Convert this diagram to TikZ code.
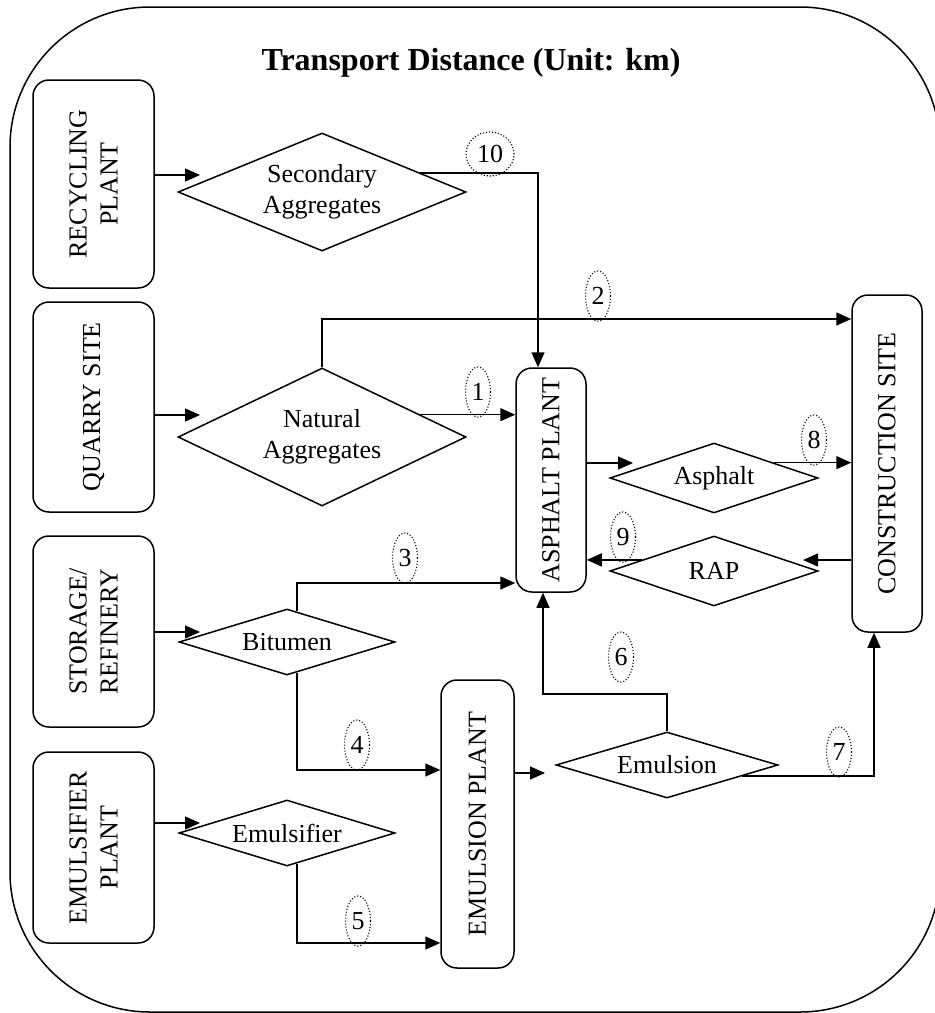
\documentclass[tikz,border=0pt]{standalone}
\usepackage{fontspec}
\setmainfont{Liberation Serif}
\usetikzlibrary{shapes.geometric,arrows.meta,calc}

\begin{document}
\begin{tikzpicture}[x=1pt,y=-1pt,
  every node/.style={font=\fontsize{26}{31}\selectfont},
  site/.style={draw, rounded corners=16pt, line width=1.5pt, inner sep=0pt},
  dia/.style={draw, diamond, line width=1.5pt, inner sep=0pt},
  lbl/.style={align=center, inner sep=0pt},
  vlbl/.style={align=center, inner sep=0pt, rotate=90},
  flow/.style={line width=1.5pt, -{Triangle[length=15pt,width=13pt]}},
  num/.style={ellipse, draw, line width=1.1pt, dash pattern=on 1.1pt off 1.9pt, inner sep=0pt,
              minimum width=25pt, minimum height=50pt},
]
\useasboundingbox (0,0) rectangle (935,1013);
\clip (0,0) rectangle (935,1013);

% frame
\draw[line width=1.5pt, rounded corners=140pt] (10,7) rectangle (940,1012);

% title
\node[font=\fontsize{32}{36}\selectfont\bfseries, anchor=base] (title) at (471,70)
  {Transport Distance (Unit: km)};

% sources on the left
\node[site, minimum width=121pt, minimum height=208pt] (rec) at (93.5,184) {};
\node[vlbl] at (rec) {RECYCLING\\PLANT};
\node[site, minimum width=121pt, minimum height=210pt] (qua) at (93.5,407) {};
\node[vlbl] at (qua) {QUARRY SITE};
\node[site, minimum width=121pt, minimum height=191pt] (sto) at (93.5,631.5) {};
\node[vlbl] at (sto) {STORAGE/\\REFINERY};
\node[site, minimum width=121pt, minimum height=191pt] (emu) at (93.5,847.5) {};
\node[vlbl] at (emu) {EMULSIFIER\\PLANT};

% plants and site
\node[site, minimum width=70pt, minimum height=224pt] (ap) at (551,480) {};
\node[vlbl] at (ap) {ASPHALT PLANT};
\node[site, minimum width=70pt, minimum height=337pt] (con) at (887,463.5) {};
\node[vlbl] at (con) {CONSTRUCTION SITE};
\node[site, minimum width=73pt, minimum height=288pt] (emp) at (477.5,824) {};
\node[vlbl] at (emp) {EMULSION PLANT};

% materials
\node[dia, minimum width=288pt, minimum height=118pt] (sec) at (322,192) {};
\node[lbl] at (sec) {Secondary\\Aggregates};
\node[dia, minimum width=288pt, minimum height=138pt] (nat) at (322,437) {};
\node[lbl] at (nat) {Natural\\Aggregates};
\node[dia, minimum width=208pt, minimum height=70pt] (asp) at (714,478) {};
\node[lbl] at (asp) {Asphalt};
\node[dia, minimum width=208pt, minimum height=70pt] (rap) at (714,571) {};
\node[lbl] at (rap) {RAP};
\node[dia, minimum width=216pt, minimum height=66pt] (bit) at (287,642) {};
\node[lbl] at (bit) {Bitumen};
\node[dia, minimum width=216pt, minimum height=66pt] (emf) at (287,833) {};
\node[lbl] at (emf) {Emulsifier};
\node[dia, minimum width=222pt, minimum height=66pt] (ems) at (667,765) {};
\node[lbl] at (ems) {Emulsion};

% arrow ends near the material shapes
\coordinate (recIn) at (200,175);
\coordinate (quaIn) at (200,415);
\coordinate (stoIn) at (200,632);
\coordinate (emuIn) at (200,823);
\coordinate (aspIn) at (633,463);
\coordinate (rapIn) at (803,560);
\coordinate (emsIn) at (545,773);

% feeds into the materials
\draw[flow] (rec.east |- recIn) -- (recIn);
\draw[flow] (qua.east |- quaIn) -- (quaIn);
\draw[flow] (sto.east |- stoIn) -- (stoIn);
\draw[flow] (emu.east |- emuIn) -- (emuIn);
\draw[flow] (ap.east |- aspIn) -- (aspIn);
\draw[flow] (con.west |- rapIn) -- (rapIn);
\draw[flow] (emp.east |- emsIn) -- (emsIn);

% transport legs
\draw[flow] ($(sec.north)!0.68!(sec.east)$) -| ([xshift=-13pt]ap.north);
\draw[flow] ($(nat.north)!0.68!(nat.east)$) coordinate (s1) -- (s1 -| ap.west);
\draw[flow] (nat.north) -- (nat.north |- 0,319) -- (con.west |- 0,319);
\draw[flow] ($(asp.north)!0.57!(asp.east)$) coordinate (s8) -- (s8 -| con.west);
\draw[flow] ($(rap.north)!0.69!(rap.west)$) coordinate (s9) -- (s9 -| ap.east);
\draw[flow] ($(bit.north)!0.093!(bit.east)$) |- (ap.west |- 0,583);
\draw[flow] ($(bit.south)!0.093!(bit.east)$) |- (emp.west |- 0,770);
\draw[flow] ($(emf.south)!0.093!(emf.east)$) |- (emp.west |- 0,943);
\draw[flow] (ems.north) -- (ems.north |- 0,694) -| ([xshift=-8pt]ap.south);
\draw[flow] ($(ems.east)!0.333!(ems.south)$) -| ([xshift=-13pt]con.south);

% distance markers
\node[num, minimum width=48pt, minimum height=44pt] (n10) at (490,154) {10};
\node[num] (n2) at (598,296) {2};
\node[num] (n1) at (478,392) {1};
\node[num] (n8) at (814,440) {8};
\node[num] (n9) at (623,537) {9};
\node[num] (n3) at (405,558) {3};
\node[num] (n6) at (621,657) {6};
\node[num] (n4) at (357,745) {4};
\node[num] (n7) at (839,752) {7};
\node[num] (n5) at (358,921) {5};
\end{tikzpicture}
\end{document}
